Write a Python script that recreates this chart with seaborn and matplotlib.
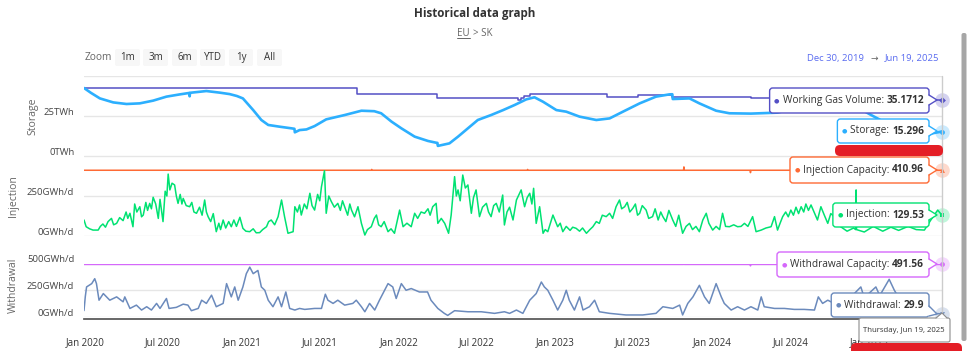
import matplotlib
matplotlib.use('Agg')
import matplotlib.pyplot as plt
import matplotlib.transforms as mtransforms
from matplotlib.patches import FancyBboxPatch, Polygon
import pandas as pd
import seaborn as sns

# ---- data ----
storage_dates = ['2019-12-30', '2020-01-15', '2020-02-05', '2020-03-07', '2020-04-07', '2020-05-08',
                 '2020-06-08', '2020-07-09', '2020-08-09', '2020-08-31', '2020-09-01', '2020-09-02',
                 '2020-10-10', '2020-11-10', '2020-12-03', '2020-12-20', '2021-01-03', '2021-01-27',
                 '2021-02-15', '2021-03-03', '2021-03-30', '2021-04-26', '2021-05-03', '2021-05-04',
                 '2021-05-15', '2021-05-31', '2021-06-19', '2021-07-16', '2021-08-28', '2021-10-06',
                 '2021-11-05', '2021-11-21', '2021-12-15', '2022-01-07', '2022-02-07', '2022-03-10',
                 '2022-03-29', '2022-04-01', '2022-04-02', '2022-04-29', '2022-05-19', '2022-06-11',
                 '2022-07-04', '2022-08-04', '2022-09-01', '2022-09-28', '2022-10-25', '2022-11-13',
                 '2022-12-03', '2023-01-03', '2023-01-26', '2023-02-26', '2023-04-06', '2023-05-07',
                 '2023-06-07', '2023-07-16', '2023-08-23', '2023-09-23', '2023-09-30', '2023-10-01',
                 '2023-11-09', '2023-12-02', '2024-01-10', '2024-02-10', '2024-03-31', '2024-06-01',
                 '2024-07-15', '2024-09-01', '2024-10-15', '2024-11-20', '2024-12-20', '2025-01-05',
                 '2025-01-24', '2025-02-20', '2025-03-20', '2025-04-15', '2025-05-20', '2025-06-19']
storage_twh = [42.5, 39.5, 36.0, 33.5, 32.5, 32.9,
               34.6, 37.1, 38.5, 39.4, 37.3, 39.5,
               40.6, 39.6, 38.7, 37.5, 36.0, 28.7,
               22.5, 19.4, 18.3, 17.3, 17.0, 14.8,
               16.2, 16.6, 18.7, 22.9, 25.6, 28.3,
               28.0, 26.7, 21.5, 17.3, 12.1, 9.4,
               8.3, 8.2, 6.3, 7.9, 12.1, 17.3,
               22.5, 25.6, 28.7, 31.9, 35.4, 36.7,
               33.9, 28.7, 27.7, 24.6, 22.5, 23.5,
               27.7, 32.9, 37.1, 38.5, 38.6, 35.6,
               36.0, 32.9, 28.3, 26.7, 26.5, 27.1,
               30.0, 33.0, 34.0, 31.5, 28.0, 25.6,
               22.9, 18.0, 13.5, 12.5, 13.8, 15.296]

wgv_dates = ['2019-12-30', '2021-09-25', '2022-04-01', '2022-10-05', '2022-10-12', '2022-10-20',
             '2022-10-30', '2022-11-02', '2023-04-30', '2023-07-11', '2023-09-30', '2024-04-01',
             '2025-01-10', '2025-06-19']
wgv_twh = [42.5, 38.75, 36.0, 35.0, 36.0, 37.2,
           37.8, 38.75, 37.1, 38.1, 37.1, 36.0,
           35.1712, 35.1712]

inj_cap_dates = ['2019-12-30', '2021-10-29', '2021-10-30', '2021-10-31', '2022-10-27', '2022-10-28',
                 '2022-10-29', '2023-10-26', '2023-10-27', '2023-10-28', '2024-03-29', '2024-03-30',
                 '2024-03-31', '2025-06-19']
inj_cap_gwh = [410.96, 410.96, 416, 410.96, 410.96, 416,
               410.96, 410.96, 432, 410.96, 410.96, 396,
               410.96, 410.96]

wd_cap_dates = ['2019-12-30', '2023-10-26', '2023-10-27', '2023-10-28', '2024-03-29', '2024-03-30',
                '2024-03-31', '2025-06-19']
wd_cap_gwh = [491.56, 491.56, 512, 491.56, 491.56, 478,
              491.56, 491.56]

inj_dates = ['2019-12-30', '2020-01-04', '2020-01-12', '2020-01-20', '2020-02-01', '2020-02-06', '2020-02-12', '2020-02-18',
             '2020-02-24', '2020-03-03', '2020-03-08', '2020-03-15', '2020-03-22', '2020-03-30', '2020-04-06', '2020-04-10',
             '2020-04-15', '2020-04-22', '2020-04-26', '2020-05-01', '2020-05-08', '2020-05-12', '2020-05-16', '2020-05-22',
             '2020-05-26', '2020-05-31', '2020-06-04', '2020-06-08', '2020-06-14', '2020-06-20', '2020-06-24', '2020-07-01',
             '2020-07-06', '2020-07-10', '2020-07-13', '2020-07-17', '2020-07-22', '2020-07-28', '2020-08-01', '2020-08-05',
             '2020-08-10', '2020-08-14', '2020-08-17', '2020-08-24', '2020-09-01', '2020-09-06', '2020-09-11', '2020-09-17',
             '2020-09-24', '2020-09-30', '2020-10-06', '2020-10-10', '2020-10-14', '2020-10-20', '2020-10-26', '2020-11-02',
             '2020-11-08', '2020-11-12', '2020-11-18', '2020-11-24', '2020-12-01', '2020-12-07', '2020-12-13', '2020-12-19',
             '2020-12-27', '2021-01-03', '2021-01-10', '2021-01-19', '2021-01-27', '2021-02-03', '2021-02-11', '2021-02-18',
             '2021-02-27', '2021-03-04', '2021-03-10', '2021-03-18', '2021-03-26', '2021-04-03', '2021-04-10', '2021-04-18',
             '2021-04-30', '2021-05-04', '2021-05-10', '2021-05-15', '2021-05-19', '2021-05-26', '2021-06-01', '2021-06-08',
             '2021-06-13', '2021-06-19', '2021-06-26', '2021-07-01', '2021-07-05', '2021-07-12', '2021-07-16', '2021-07-22',
             '2021-07-28', '2021-08-04', '2021-08-12', '2021-08-18', '2021-08-23', '2021-08-28', '2021-09-04', '2021-09-09',
             '2021-09-13', '2021-09-20', '2021-09-28', '2021-10-06', '2021-10-14', '2021-10-20', '2021-10-29', '2021-11-05',
             '2021-11-10', '2021-11-15', '2021-11-21', '2021-11-28', '2021-12-07', '2021-12-14', '2021-12-22', '2022-01-03',
             '2022-01-11', '2022-01-20', '2022-01-30', '2022-02-07', '2022-02-14', '2022-02-22', '2022-03-02', '2022-03-10',
             '2022-03-15', '2022-03-21', '2022-03-29', '2022-04-02', '2022-04-10', '2022-04-18', '2022-04-27', '2022-05-03',
             '2022-05-11', '2022-05-15', '2022-05-19', '2022-05-24', '2022-05-30', '2022-06-05', '2022-06-11', '2022-06-19',
             '2022-06-24', '2022-06-30', '2022-07-08', '2022-07-15', '2022-07-24', '2022-07-29', '2022-08-04', '2022-08-10',
             '2022-08-16', '2022-08-23', '2022-08-31', '2022-09-04', '2022-09-10', '2022-09-16', '2022-09-24', '2022-10-02',
             '2022-10-08', '2022-10-13', '2022-10-21', '2022-10-27', '2022-11-02', '2022-11-07', '2022-11-11', '2022-11-17',
             '2022-11-25', '2022-12-03', '2022-12-08', '2022-12-14', '2022-12-20', '2022-12-26', '2023-01-06', '2023-01-12',
             '2023-01-18', '2023-01-26', '2023-02-04', '2023-02-10', '2023-02-18', '2023-02-26', '2023-03-05', '2023-03-14',
             '2023-03-22', '2023-03-29', '2023-04-06', '2023-04-13', '2023-04-20', '2023-04-29', '2023-05-07', '2023-05-14',
             '2023-05-22', '2023-05-30', '2023-06-04', '2023-06-11', '2023-06-17', '2023-06-23', '2023-06-30', '2023-07-06',
             '2023-07-11', '2023-07-16', '2023-07-22', '2023-07-31', '2023-08-06', '2023-08-15', '2023-08-21', '2023-08-28',
             '2023-09-03', '2023-09-08', '2023-09-15', '2023-09-22', '2023-10-01', '2023-10-08', '2023-10-15', '2023-10-24',
             '2023-11-01', '2023-11-09', '2023-11-16', '2023-11-24', '2023-12-02', '2023-12-10', '2023-12-18', '2023-12-24',
             '2024-01-02', '2024-01-10', '2024-01-18', '2024-01-25', '2024-02-01', '2024-02-10', '2024-02-20', '2024-02-29',
             '2024-03-08', '2024-03-16', '2024-03-24', '2024-04-04', '2024-04-12', '2024-04-24', '2024-05-05', '2024-05-17',
             '2024-05-25', '2024-06-01', '2024-06-07', '2024-06-13', '2024-06-20', '2024-06-26', '2024-07-02', '2024-07-08',
             '2024-07-14', '2024-07-20', '2024-07-26', '2024-08-01', '2024-08-06', '2024-08-12', '2024-08-18', '2024-08-25',
             '2024-09-02', '2024-09-10', '2024-09-18', '2024-09-26', '2024-10-03', '2024-10-11', '2024-10-25', '2024-11-10',
             '2024-11-25', '2024-11-30', '2024-12-01', '2024-12-02', '2024-12-20', '2025-01-10', '2025-02-01', '2025-02-20',
             '2025-03-10', '2025-04-01', '2025-04-20', '2025-05-09', '2025-05-24', '2025-06-09', '2025-06-19']
inj_gwh = [100, 58, 45, 37, 37, 60, 75, 55,
           90, 110, 70, 79, 115, 96, 150, 110,
           142, 58, 200, 150, 183, 120, 131, 210,
           160, 204, 170, 242, 200, 110, 229, 90,
           280, 250, 387, 288, 330, 319, 250, 204,
           260, 200, 235, 190, 183, 210, 150, 142,
           180, 130, 225, 150, 121, 90, 140, 27,
           80, 40, 100, 50, 90, 58, 100, 60,
           117, 48, 30, 27, 45, 20, 21, 40,
           58, 90, 100, 70, 121, 225, 121, 17,
           27, 183, 150, 194, 131, 200, 170, 267,
           190, 162, 260, 220, 308, 408, 142, 250,
           215, 180, 204, 160, 220, 183, 130, 200,
           162, 120, 183, 79, 6, 40, 58, 110,
           131, 70, 58, 90, 27, 45, 17, 162,
           58, 80, 58, 142, 110, 150, 142, 170,
           130, 183, 204, 79, 110, 79, 17, 131,
           371, 250, 288, 220, 381, 300, 319, 142,
           240, 288, 121, 180, 204, 150, 121, 190,
           204, 150, 256, 69, 150, 180, 100, 225,
           260, 288, 183, 240, 267, 200, 298, 79,
           183, 17, 40, 27, 80, 131, 58, 80,
           27, 60, 35, 55, 48, 30, 50, 17,
           40, 58, 90, 79, 130, 121, 142, 110,
           183, 225, 170, 183, 210, 150, 173, 200,
           130, 142, 190, 162, 110, 121, 170, 100,
           150, 121, 90, 160, 100, 60, 130, 17,
           60, 79, 40, 60, 27, 100, 142, 80,
           37, 60, 40, 142, 60, 58, 70, 58,
           60, 79, 60, 121, 27, 37, 50, 58,
           121, 37, 80, 121, 150, 120, 162, 130,
           180, 140, 183, 150, 200, 160, 194, 150,
           100, 183, 130, 79, 140, 121, 60, 30,
           50, 40, 288, 40, 25, 60, 30, 55,
           35, 60, 40, 37, 100, 162, 129.53]

wd_dates = ['2019-12-30', '2020-01-02', '2020-01-05', '2020-01-17', '2020-01-24', '2020-01-28', '2020-02-03', '2020-02-13',
            '2020-02-28', '2020-03-15', '2020-03-30', '2020-04-03', '2020-04-15', '2020-04-30', '2020-05-12', '2020-05-24',
            '2020-06-04', '2020-06-16', '2020-06-24', '2020-07-09', '2020-07-15', '2020-08-01', '2020-08-17', '2020-08-28',
            '2020-09-05', '2020-09-21', '2020-09-29', '2020-10-10', '2020-10-22', '2020-11-02', '2020-11-18', '2020-11-26',
            '2020-12-07', '2020-12-15', '2020-12-23', '2021-01-03', '2021-01-11', '2021-01-19', '2021-01-27', '2021-02-07',
            '2021-02-15', '2021-02-23', '2021-03-03', '2021-03-14', '2021-03-26', '2021-04-03', '2021-04-13', '2021-04-22',
            '2021-05-04', '2021-05-15', '2021-05-27', '2021-06-19', '2021-07-05', '2021-07-14', '2021-07-20', '2021-08-01',
            '2021-08-12', '2021-08-28', '2021-09-16', '2021-09-24', '2021-10-06', '2021-10-14', '2021-10-25', '2021-11-06',
            '2021-11-17', '2021-11-29', '2021-12-07', '2021-12-18', '2021-12-26', '2022-01-07', '2022-01-18', '2022-01-30',
            '2022-02-18', '2022-03-09', '2022-03-17', '2022-04-02', '2022-04-17', '2022-04-25', '2022-05-11', '2022-06-11',
            '2022-07-12', '2022-08-12', '2022-09-04', '2022-09-16', '2022-10-02', '2022-10-17', '2022-11-02', '2022-11-17',
            '2022-11-29', '2022-12-06', '2022-12-14', '2022-12-26', '2023-01-06', '2023-01-18', '2023-01-26', '2023-02-02',
            '2023-02-14', '2023-02-26', '2023-03-06', '2023-03-21', '2023-04-02', '2023-04-13', '2023-05-07', '2023-06-14',
            '2023-07-23', '2023-08-23', '2023-09-08', '2023-10-01', '2023-10-17', '2023-10-24', '2023-11-05', '2023-11-17',
            '2023-12-02', '2023-12-14', '2023-12-25', '2024-01-10', '2024-01-22', '2024-01-29', '2024-02-14', '2024-02-29',
            '2024-03-16', '2024-03-31', '2024-04-16', '2024-04-24', '2024-05-01', '2024-05-25', '2024-06-17', '2024-07-10',
            '2024-08-02', '2024-08-26', '2024-09-04', '2024-09-14', '2024-09-26', '2024-10-11', '2024-10-25', '2024-11-10',
            '2024-12-12', '2024-12-20', '2025-01-16', '2025-01-25', '2025-02-16', '2025-02-28', '2025-03-15', '2025-04-10',
            '2025-05-01', '2025-05-24', '2025-06-19']
wd_gwh = [60, 190, 281, 312, 358, 312, 157, 219,
          157, 188, 142, 188, 80, 111, 65, 96,
          65, 127, 80, 173, 80, 90, 120, 111,
          59, 80, 157, 127, 204, 96, 127, 312,
          188, 281, 157, 281, 405, 466, 405, 435,
          281, 250, 157, 96, 188, 96, 234, 80,
          65, 80, 71, 80, 80, 213, 157, 127,
          157, 111, 127, 157, 96, 49, 127, 65,
          157, 250, 312, 281, 173, 312, 250, 266,
          234, 234, 157, 80, 34, 15, 59, 49,
          49, 34, 49, 34, 65, 34, 157, 219,
          327, 281, 250, 157, 65, 157, 250, 157,
          65, 188, 65, 96, 157, 49, 34, 19,
          19, 34, 96, 80, 111, 19, 127, 188,
          296, 188, 127, 312, 188, 127, 65, 96,
          65, 96, 65, 188, 96, 80, 80, 71,
          71, 65, 188, 127, 157, 127, 120, 150,
          281, 180, 281, 200, 352, 250, 150, 80,
          50, 34, 29.9]

tick_dates = ['2020-01-01', '2020-07-01', '2021-01-01', '2021-07-01', '2022-01-01', '2022-07-01',
              '2023-01-01', '2023-07-01', '2024-01-01', '2024-07-01', '2025-01-01']
tick_labels = ['Jan 2020', 'Jul 2020', 'Jan 2021', 'Jul 2021', 'Jan 2022', 'Jul 2022',
               'Jan 2023', 'Jul 2023', 'Jan 2024', 'Jul 2024', 'Jan 2025']

C_WGV, C_STO, C_ICAP, C_INJ, C_WCAP, C_WD = '#544fc5', '#2caffe', '#fe6a35', '#00e272', '#d568fb', '#6b8abc'

# ---- figure ----
sns.set_theme(style='white')
plt.rcParams['font.family'] = ['Open Sans', 'DejaVu Sans']

W, H = 970, 351
fig = plt.figure(figsize=(W / 100, H / 100), dpi=100)


def px_box(left, top, right, bottom):
    return [left / W, 1 - bottom / H, (right - left) / W, (bottom - top) / H]


ax_st = fig.add_axes(px_box(84, 76, 942, 156))
ax_in = fig.add_axes(px_box(84, 156, 942, 236))
ax_wd = fig.add_axes(px_box(84, 263.5, 942, 317))

x0, x1 = pd.Timestamp('2019-12-30'), pd.Timestamp('2025-06-19')


def series(ax, dates, values, color, lw, steps=False):
    kw = {'drawstyle': 'steps-post'} if steps else {}
    sns.lineplot(x=pd.to_datetime(dates), y=values, ax=ax, color=color, linewidth=lw,
                 estimator=None, sort=False, **kw)


series(ax_st, wgv_dates, wgv_twh, C_WGV, 1.1, steps=True)
series(ax_st, storage_dates, storage_twh, C_STO, 1.9)
series(ax_in, inj_cap_dates, inj_cap_gwh, C_ICAP, 1.1)
series(ax_in, inj_dates, inj_gwh, C_INJ, 1.1)
series(ax_wd, wd_cap_dates, wd_cap_gwh, C_WCAP, 1.1)
series(ax_wd, wd_dates, wd_gwh, C_WD, 1.1)

# end-point markers with halos
for ax, dates, vals, color, mk in [(ax_st, wgv_dates, wgv_twh, C_WGV, 'D'),
                                   (ax_st, storage_dates, storage_twh, C_STO, 'o'),
                                   (ax_in, inj_cap_dates, inj_cap_gwh, C_ICAP, '^'),
                                   (ax_in, inj_dates, inj_gwh, C_INJ, 's'),
                                   (ax_wd, wd_cap_dates, wd_cap_gwh, C_WCAP, 'o'),
                                   (ax_wd, wd_dates, wd_gwh, C_WD, 'v')]:
    d = pd.to_datetime(dates[-1])
    ax.scatter([d], [vals[-1]], s=110, color=color, alpha=0.25, lw=0, clip_on=False, zorder=5)
    ax.scatter([d], [vals[-1]], s=12, color=color, marker=mk, lw=0, clip_on=False, zorder=6)

offset = mtransforms.ScaledTranslation(0, 0.045, fig.dpi_scale_trans)
for ax, lim, ticks, labels in [(ax_st, 50, [0, 25, 50], ['0TWh', '25TWh', '']),
                               (ax_in, 500, [0, 250, 500], ['0GWh/d', '250GWh/d', '']),
                               (ax_wd, 500, [0, 250, 500], ['0GWh/d', '250GWh/d', '500GWh/d'])]:
    ax.set_xlim(x0, x1)
    ax.set_ylim(0, lim)
    ax.set_yticks(ticks)
    ax.set_yticklabels(labels)
    ax.grid(axis='y', color='#e6e6e6', lw=1)
    ax.set_axisbelow(True)
    for s in ax.spines.values():
        s.set_visible(False)
    ax.patch.set_alpha(0)
    ax.tick_params(axis='y', length=0, pad=7, labelsize=6.8, labelcolor='#444444')
    for t in ax.yaxis.get_major_ticks():
        t.label1.set_transform(t.label1.get_transform() + offset)
    ax.set_xlabel('')

for ax in (ax_st, ax_in):
    ax.set_xticks([])

ax_wd.set_xticks(pd.to_datetime(tick_dates))
ax_wd.set_xticklabels(tick_labels)
ax_wd.spines['bottom'].set_visible(True)
ax_wd.spines['bottom'].set_color('#555555')
ax_wd.spines['bottom'].set_position(('outward', 1.5))
ax_wd.tick_params(axis='x', length=5, width=1, color='#555555', pad=8, labelsize=7, labelcolor='#333333')
ax_wd.set_xlabel('Date', fontsize=7.5, color='#666666', labelpad=3)

ax_st.set_ylabel('Storage', fontsize=7.5, color='#666666')
ax_in.set_ylabel('Injection', fontsize=7.5, color='#666666')
ax_wd.set_ylabel('Withdrawal', fontsize=7.5, color='#666666')
ax_st.yaxis.set_label_coords((38 - 84) / 858, 0.5)
ax_in.yaxis.set_label_coords((19 - 84) / 858, 0.5)
ax_wd.yaxis.set_label_coords((19 - 84) / 858, 0.6)

# ---- overlay in pixel coordinates: header, tooltips ----
ov = fig.add_axes([0, 0, 1, 1])
ov.set_xlim(0, W)
ov.set_ylim(H, 0)
ov.axis('off')
renderer = fig.canvas.get_renderer()


def width(t):
    return t.get_window_extent(renderer).width


ov.text(475, 14, 'Historical data graph', ha='center', va='center', fontsize=8.4, weight='bold', color='#333333')
eu = ov.text(457, 33, 'EU', ha='left', va='center', fontsize=7, color='#666666')
ov.plot([457, 457 + width(eu)], [38, 38], color='#666666', lw=0.7)
ov.text(473, 33, '> SK', ha='left', va='center', fontsize=7, color='#666666')

ov.text(85, 58, 'Zoom', ha='left', va='center', fontsize=7.3, color='#666666')
for lbl, bx0, bx1 in [('1m', 115, 140), ('3m', 143, 168), ('6m', 172, 197),
                      ('YTD', 200, 225), ('1y', 229, 253), ('All', 257, 282)]:
    ov.add_patch(FancyBboxPatch((bx0, 49), bx1 - bx0, 17, boxstyle='round,pad=0,rounding_size=2',
                                facecolor='#f7f7f7', edgecolor='none'))
    ov.text((bx0 + bx1) / 2, 57.5, lbl, ha='center', va='center', fontsize=7, color='#333333')

ov.text(807, 58, 'Dec 30, 2019', ha='left', va='center', fontsize=6.8, color='#5a6cf0')
ov.text(874.5, 58, '\u2192', ha='center', va='center', fontsize=6.5, color='#666666')
ov.text(939, 58, 'Jun 19, 2025', ha='right', va='center', fontsize=6.8, color='#5a6cf0')

ov.plot([942, 942], [76, 318], color='#cccccc', lw=1, zorder=0)


def tooltip(top, bottom, tip_y, label, value, color, right=929, tip_x=937):
    cy = (top + bottom) / 2
    val = ov.text(right - 5, cy, value, ha='right', va='center', fontsize=7.3, weight='bold',
                  color='#333333', zorder=4)
    x = right - 5 - width(val)
    lab = ov.text(x, cy, label + ': ', ha='right', va='center', fontsize=7.3, color='#333333', zorder=4)
    x -= width(lab)
    ov.text(x - 3, cy, '\u25cf', ha='right', va='center', fontsize=4.5, color=color, zorder=4)
    left = x - 13
    ov.add_patch(FancyBboxPatch((left, top), right - left, bottom - top,
                                boxstyle='round,pad=0,rounding_size=3',
                                facecolor='white', edgecolor=color, lw=1, zorder=2))
    by = min(max(tip_y, top + 6), bottom - 6)
    ov.add_patch(Polygon([(right - 1.5, by - 5), (tip_x, tip_y), (right - 1.5, by + 5)],
                         closed=True, facecolor='white', edgecolor='none', zorder=3))
    ov.plot([right, tip_x, right], [by - 5, tip_y, by + 5], color=color, lw=1, zorder=3)


tooltip(88, 113, 100, 'Working Gas Volume', '35.1712', C_WGV)
tooltip(119, 143, 131, 'Storage', '15.296', C_STO)
tooltip(157, 183, 170, 'Injection Capacity', '410.96', C_ICAP)
tooltip(203, 227, 215, 'Injection', '129.53', C_INJ)
tooltip(252, 277, 264, 'Withdrawal Capacity', '491.56', C_WCAP)
tooltip(293, 317, 314, 'Withdrawal', '29.9', C_WD)

# date label box under the crosshair
ov.add_patch(FancyBboxPatch((859, 318), 91, 24, boxstyle='round,pad=0,rounding_size=2',
                            facecolor='white', edgecolor='#8c8c8c', lw=0.8, zorder=2))
ov.add_patch(Polygon([(936, 318.6), (942, 313), (947, 318.6)], closed=True,
                     facecolor='white', edgecolor='none', zorder=3))
ov.plot([936, 942, 947], [318, 313, 318], color='#8c8c8c', lw=0.8, zorder=3)
ov.text(904, 330.5, 'Thursday, Jun 19, 2025', ha='center', va='center', fontsize=5.6,
        color='#333333', zorder=4)

# redaction marks and browser scrollbar from the screenshot
ov.add_patch(FancyBboxPatch((835, 145), 108, 11, boxstyle='round,pad=0,rounding_size=5',
                            facecolor='#e41e26', edgecolor='none', zorder=5))
ov.add_patch(FancyBboxPatch((851, 343), 111, 14, boxstyle='round,pad=0,rounding_size=5',
                            facecolor='#e41e26', edgecolor='none', zorder=5))
ov.add_patch(FancyBboxPatch((961.5, 33), 5, 308, boxstyle='round,pad=0,rounding_size=2',
                            facecolor='#a6a6a6', edgecolor='none', zorder=5))

fig.savefig('out.png', dpi=100)
